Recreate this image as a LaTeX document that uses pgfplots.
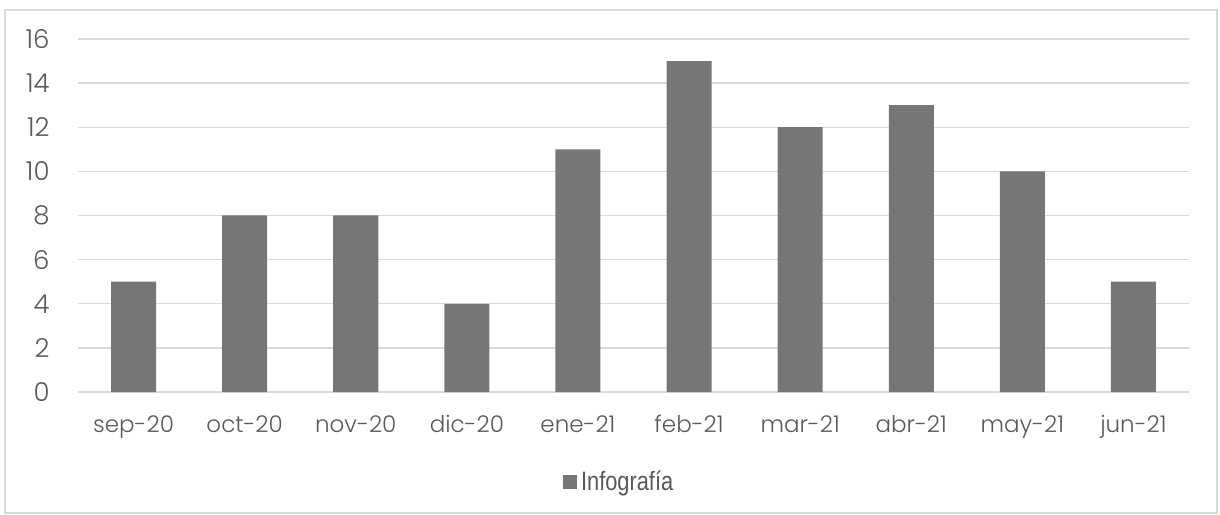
\documentclass[border=0pt]{standalone}
\usepackage{pgfplots}
\pgfplotsset{compat=1.18}
\usepackage{fontspec}
\setmainfont{Poppins}[UprightFont=* Light]
\newfontfamily\narrowfont{Liberation Sans}
\definecolor{barc}{RGB}{118,118,120}
\definecolor{gridc}{RGB}{217,217,217}
\definecolor{textc}{RGB}{89,89,89}

\begin{document}
\begin{tikzpicture}
\useasboundingbox (-39pt,-61pt) rectangle (571pt,196pt);
\draw[gridc, line width=0.7pt] (-36.5pt,-60.5pt) rectangle (569.5pt,191pt);
\begin{axis}[
    at={(0,0)}, anchor=south west,
    scale only axis,
    width=555.5pt, height=176.5pt,
    xmin=-0.5, xmax=9.5, ymin=0, ymax=16,
    ybar, bar width=22.5pt,
    xtick={0,...,9},
    xticklabels={sep-20,oct-20,nov-20,dic-20,ene-21,feb-21,mar-21,abr-21,may-21,jun-21},
    ytick={0,2,...,16},
    ymajorgrids,
    grid style={gridc, line width=0.7pt},
    axis x line*=bottom, axis y line*=left,
    x axis line style={gridc, line width=0.8pt, -},
    y axis line style={draw=none},
    major tick length=0pt,
    tick style={draw=none},
    /pgf/number format/assume math mode=true,
    tick label style={text=textc, inner sep=0pt},
    xticklabel style={font=\fontsize{11.5}{13}\selectfont, anchor=north, yshift=-11.5pt},
    yticklabel style={font=\fontsize{13}{15}\selectfont, anchor=east, xshift=-14pt},
    legend style={at={(0.488,-0.255)}, anchor=center, draw=none, fill=none,
        font=\narrowfont\fontsize{13.3}{15}\selectfont, text=textc,
        /tikz/every even column/.append style={column sep=0pt}},
    legend image code/.code={\fill[barc] (0pt,-3.5pt) rectangle (7pt,3.5pt);},
]
\addplot[fill=barc, draw=none] coordinates {
    (0,5) (1,8) (2,8) (3,4) (4,11) (5,15) (6,12) (7,13) (8,10) (9,5)};
\addlegendentry{\scalebox{0.82}[1]{Infografía}}
\end{axis}
\end{tikzpicture}
\end{document}
